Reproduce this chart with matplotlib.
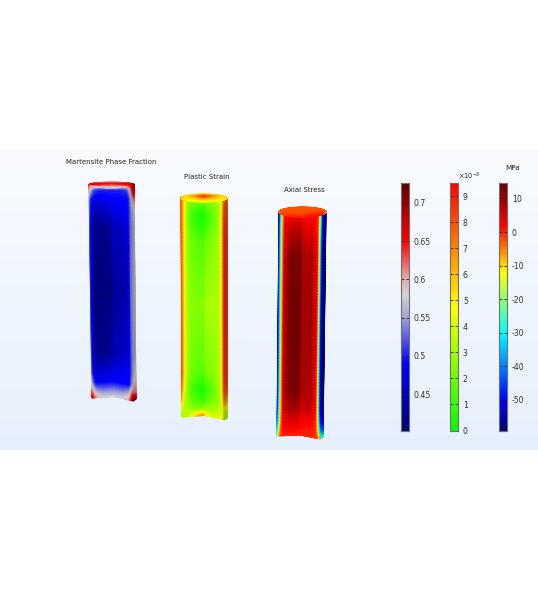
import numpy as np
import matplotlib
matplotlib.use("Agg")
import matplotlib.pyplot as plt
from matplotlib.colors import LinearSegmentedColormap, Normalize

# --- Colour scales ---
martensite_range = (0.4026, 0.726)
martensite_stops = [0.4026, 0.49, 0.55, 0.58, 0.60, 0.65, 0.726]
martensite_colors = ["#000070", "#0000ff", "#a0a0d8", "#d2d2d2", "#e0b0b0", "#ff0000", "#5e0000"]
martensite_ticks = [0.45, 0.5, 0.55, 0.6, 0.65, 0.7]
martensite_labels = ["0.45", "0.5", "0.55", "0.6", "0.65", "0.7"]

strain_range = (0, 9.5)
strain_stops = [0, 4.75, 9.5]
strain_colors = ["#00ff00", "#ffff00", "#ff0000"]
strain_ticks = list(range(10))
strain_labels = [str(t) for t in strain_ticks]

stress_range = (-59.1, 14.6)
stress_stops = [-59.1, -50, -30, -21, -12, 2, 14.6]
stress_colors = ["#000070", "#0000ff", "#00ffff", "#80ff80", "#ffff00", "#ff0000", "#640000"]
stress_ticks = [-50, -40, -30, -20, -10, 0, 10]
stress_labels = [str(t) for t in stress_ticks]

# --- Field values on each tube: rows run top to bottom, columns left to right ---
tube_u = [0, .04, .08, .13, .25, .495, .505, .7, .84, .88, .91, .94, 1]
tube_v = [0, .03, .07, .12, .2, .5, .8, .88, .93, .97, 1]

martensite_field = [
    [.64, .63, .62, .60, .58, .58, .58, .58, .60, .62, .64, .66, .70],
    [.60, .56, .53, .51, .50, .50, .50, .50, .51, .54, .58, .62, .68],
    [.55, .50, .49, .48, .48, .49, .49, .49, .49, .50, .54, .58, .62],
    [.54, .49, .46, .44, .45, .46, .48, .48, .49, .50, .53, .56, .58],
    [.53, .47, .43, .42, .42, .43, .45, .45, .47, .50, .53, .55, .56],
    [.52, .46, .42, .41, .41, .41, .43, .43, .45, .49, .54, .55, .57],
    [.53, .47, .43, .42, .42, .43, .45, .45, .47, .50, .53, .55, .56],
    [.54, .49, .47, .46, .46, .47, .48, .48, .49, .50, .53, .56, .58],
    [.58, .53, .50, .49, .49, .49, .49, .49, .49, .51, .55, .58, .60],
    [.63, .60, .57, .55, .54, .54, .54, .54, .56, .60, .63, .62, .62],
    [.66, .65, .62, .60, .58, .58, .58, .58, .60, .64, .67, .70, .70],
]
strain_field = [
    [8.0, 6.5, 4.6, 3.5, 2.8, 2.4, 2.6, 3.0, 3.6, 4.6, 6.0, 7.0, 7.0],
    [8.0, 6.5, 4.6, 3.2, 2.2, 1.6, 1.8, 2.6, 3.4, 4.6, 6.0, 7.5, 8.0],
    [8.0, 6.5, 4.6, 2.8, 1.2, .4, .8, 2.0, 3.2, 4.8, 6.5, 8.0, 8.0],
    [8.2, 6.5, 4.6, 2.8, 1.3, .5, .9, 2.0, 3.2, 4.8, 6.8, 8.4, 8.4],
    [8.2, 6.5, 4.6, 3.0, 2.0, 1.4, 2.0, 2.6, 3.2, 4.8, 7.0, 8.6, 8.6],
    [8.2, 6.5, 4.6, 3.2, 2.5, 2.4, 3.0, 3.2, 3.4, 4.8, 7.0, 8.8, 8.8],
    [8.2, 6.5, 4.6, 3.0, 2.0, 1.6, 2.2, 2.6, 3.2, 4.8, 7.0, 8.6, 8.6],
    [7.5, 5.5, 3.8, 2.6, 1.2, .3, .8, 2.0, 3.0, 4.6, 6.5, 8.0, 8.0],
    [6.0, 4.5, 3.4, 2.8, 1.8, 1.0, 1.6, 2.4, 3.0, 4.2, 5.5, 6.5, 6.0],
    [4.0, 3.6, 3.4, 3.2, 2.8, 2.6, 3.0, 3.2, 3.6, 4.0, 4.2, 4.0, 3.8],
    [3.4, 3.4, 3.4, 3.6, 5.0, 7.0, 5.5, 4.0, 4.4, 4.6, 4.6, 3.6, 3.4],
]
stress_field = [
    [-55, -32, -10, 0, 1, 2, 2, 2, 0, -12, -32, -50, -58],
    [-55, -32, -9, 2, 3, 4, 2, 2, 1, -12, -32, -50, -58],
    [-55, -30, -8, 3, 6, 7, 4, 4, 0, -14, -34, -52, -58],
    [-55, -30, -8, 4, 9, 10, 6, 6, 1, -16, -38, -54, -58],
    [-55, -30, -8, 6, 12, 13, 8, 9, 2, -16, -40, -56, -58],
    [-55, -30, -8, 7, 13, 14, 9, 10, 3, -16, -42, -56, -58],
    [-55, -30, -8, 6, 12, 13, 8, 9, 2, -16, -40, -56, -58],
    [-52, -28, -8, 4, 9, 9, 5, 7, 1, -16, -38, -54, -56],
    [-45, -24, -6, 2, 5, 5, 2, 3, 0, -12, -30, -48, -52],
    [-35, -15, -3, 1, 2, 2, 1, 1, 0, -8, -20, -34, -44],
    [-25, -8, -2, 0, 0, 0, 0, 0, -1, -3, -6, -16, -28],
]

# brightness across each tube, the far side falls into shade
tube_shade = [
    [1, 1, 1, 1, 1, 1, 1, 1, 1, 1, .9, .78, .85],
    [1, 1, 1, 1, 1, 1, 1, 1, 1, 1, .95, .75, .78],
    [1, 1, 1, 1, 1, 1, 1, 1, 1, 1, 1, .85, .9],
]

# caps: rows from back rim to front rim
cap_u = [0, .01, .05, .15, .3, .5, .7, .85, .95, .99, 1]
cap_w = [-1, -.35, .35, 1]
martensite_cap = [
    [.64, .64, .64, .62, .60, .60, .60, .62, .66, .70, .70],
    [.64, .65, .65, .65, .65, .65, .65, .66, .68, .71, .71],
    [.64, .65, .66, .65, .63, .62, .63, .65, .68, .71, .71],
    [.64, .62, .60, .58, .57, .57, .57, .60, .65, .70, .70],
]
strain_cap = [
    [7.0, 5.5, 5.2, 5.0, 5.0, 5.0, 5.0, 5.0, 5.2, 5.5, 5.5],
    [7.0, 5.6, 5.4, 5.6, 6.8, 8.8, 7.0, 5.6, 5.4, 5.6, 5.6],
    [7.0, 5.5, 5.2, 5.2, 5.5, 6.5, 5.6, 5.2, 5.2, 5.5, 5.5],
    [7.0, 5.5, 5.0, 4.8, 4.6, 4.4, 4.5, 4.8, 5.0, 5.5, 5.5],
]
stress_cap = [
    [-2.5, -2.5, -2.5, -2.5, -2.5, -2.5, -2.5, -2.5, -2.5, -2.5, -2.5],
    [-2.5, -2.5, -2.5, -2.5, -2.5, -2.5, -2.5, -2.5, -2.5, -2.5, -2.5],
    [-3, -2.5, -2.5, -2.5, -2.5, -2.5, -1, -1, -1, -2.5, -3],
    [-8, -4, -2, -1, 0, 0, 1, 1, 0, -4, -20],
]

titles = ["Martensite Phase Fraction", "Plastic Strain", "Axial Stress"]
background_colors = ["#f9fbff", "#e6f0fc"]


def make_cmap(stops, colors, vrange):
    pos = [(s - vrange[0]) / (vrange[1] - vrange[0]) for s in stops]
    return LinearSegmentedColormap.from_list("scale", list(zip(pos, colors)))


def refine(u, v, table, fine_u, fine_v):
    # values get blended before the colour lookup, so the bands of the scale show up
    table = np.array(table, dtype=float)
    by_row = np.array([np.interp(fine_u, u, row) for row in table])
    return np.array([np.interp(fine_v, v, col) for col in by_row.T]).T


def draw_tube(ax, field, cap, cmap, norm, shade, top, bot, notch, yc, b):
    # top = (xleft, xright), bot = (xleft, xright), notch = bottom edge y values
    fine_u = np.linspace(0, 1, 181)
    fine_v = np.linspace(0, 1, 301)
    uu, vv = np.meshgrid(fine_u, fine_v)
    xtop = top[0] + uu * (top[1] - top[0])
    xbot = bot[0] + uu * (bot[1] - bot[0])
    X = xtop + vv * (xbot - xtop)
    ybot = np.interp(uu, [0, .5, .94, 1], notch)
    # first row sits under the cap
    Y = yc + vv * (ybot - yc)
    C = cmap(norm(refine(tube_u, tube_v, field, fine_u, fine_v)))
    C[..., :3] = C[..., :3] * np.interp(fine_u, tube_u, shade)[None, :, None]
    ax.pcolormesh(X, Y, C, shading="gouraud", zorder=2)

    fine_w = np.linspace(-1, 1, 21)
    cu, cw = np.meshgrid(fine_u, fine_w)
    CX = top[0] + cu * (top[1] - top[0])
    CY = yc + b * cw * np.sqrt(1 - (2 * cu - 1) ** 2)
    CC = cmap(norm(refine(cap_u, cap_w, cap, fine_u, fine_w)))
    ax.pcolormesh(CX, CY, CC, shading="gouraud", zorder=3)


def draw_bar(fig, x0, x1, cmap, vrange, ticks, labels):
    cax = fig.add_axes([x0 / 538, 1 - 430.5 / 600, (x1 - x0) / 538, 247.5 / 600], zorder=5)
    grad = np.linspace(0, 1, 256)[:, None]
    cax.imshow(grad, cmap=cmap, aspect="auto", origin="lower",
               extent=[0, 1, vrange[0], vrange[1]])
    cax.set_xticks([])
    cax.yaxis.tick_right()
    cax.set_yticks(ticks)
    cax.set_yticklabels(labels)
    cax.tick_params(axis="y", direction="in", length=2, width=.6, left=True, right=True,
                    labelsize=5.6, pad=3.5, labelcolor="#333333", color="#222222")
    for s in cax.spines.values():
        s.set_color("#707070")
        s.set_linewidth(.8)
    return cax


fig = plt.figure(figsize=(5.38, 6), dpi=100)
ax = fig.add_axes([0, 0, 1, 1])
ax.set_xlim(0, 538)
ax.set_ylim(600, 0)
ax.axis("off")

bg = LinearSegmentedColormap.from_list("bg", background_colors)
ax.imshow(np.linspace(0, 1, 256)[:, None], cmap=bg, aspect="auto",
          extent=[0, 538, 450, 149], origin="upper", zorder=1)
ax.set_xlim(0, 538)
ax.set_ylim(600, 0)

m_cmap = make_cmap(martensite_stops, martensite_colors, martensite_range)
s_cmap = make_cmap(strain_stops, strain_colors, strain_range)
a_cmap = make_cmap(stress_stops, stress_colors, stress_range)
m_norm = Normalize(*martensite_range)
s_norm = Normalize(*strain_range)
a_norm = Normalize(*stress_range)

draw_tube(ax, martensite_field, martensite_cap, m_cmap, m_norm, tube_shade[0],
          (89, 134), (92, 136), (398, 396.5, 401, 399), 185, 3)
draw_tube(ax, strain_field, strain_cap, s_cmap, s_norm, tube_shade[1],
          (181, 227), (182, 227), (417, 415.5, 419.5, 418), 198, 4)
draw_tube(ax, stress_field, stress_cap, a_cmap, a_norm, tube_shade[2],
          (279, 326), (277, 323), (436, 435, 439, 437), 212, 5)

ax.text(111, 162, titles[0], ha="center", va="center", fontsize=5.0, color="#222222", zorder=6)
ax.text(207, 177, titles[1], ha="center", va="center", fontsize=5.0, color="#222222", zorder=6)
ax.text(304, 190, titles[2], ha="center", va="center", fontsize=5.0, color="#222222", zorder=6)

draw_bar(fig, 400.5, 409, m_cmap, martensite_range, martensite_ticks, martensite_labels)
draw_bar(fig, 449.5, 458, s_cmap, strain_range, strain_ticks, strain_labels)
draw_bar(fig, 498.5, 507, a_cmap, stress_range, stress_ticks, stress_labels)

ax.text(458, 176, r"$\times10^{-3}$", ha="left", va="center", fontsize=4.8, color="#222222", zorder=6)
ax.text(513, 168.5, "MPa", ha="center", va="center", fontsize=5.2, color="#222222", zorder=6)

fig.savefig("out.png", dpi=100)
